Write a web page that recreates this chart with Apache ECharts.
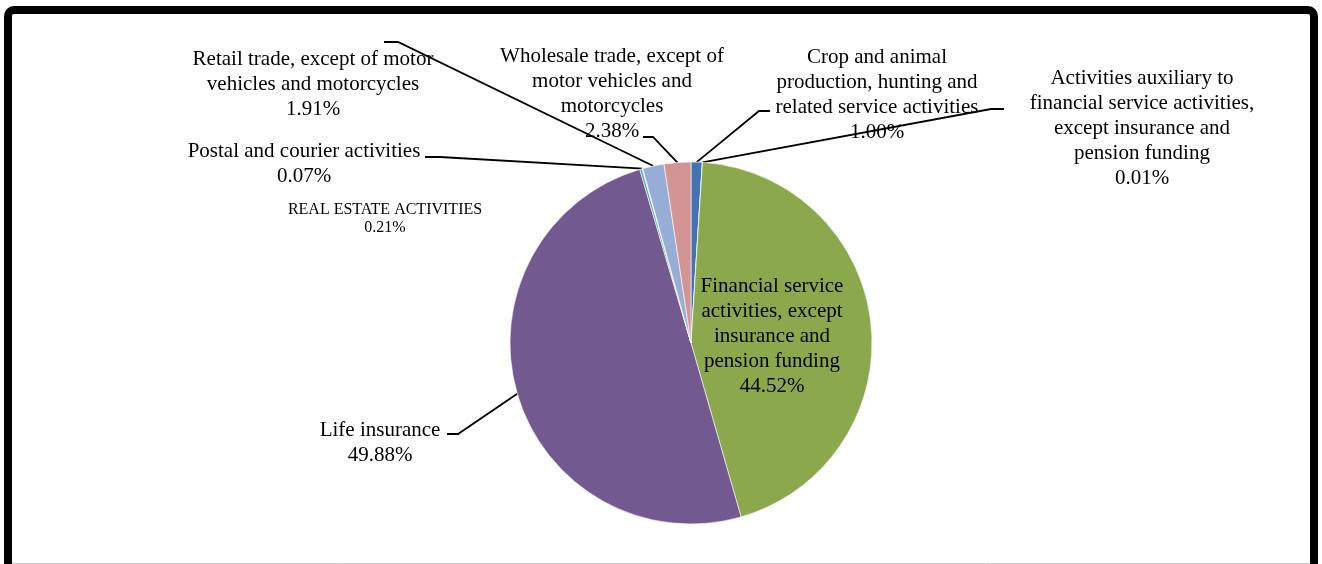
<!DOCTYPE html>
<html>
<head>
<meta charset="utf-8">
<script src="https://cdn.jsdelivr.net/npm/echarts@6/dist/echarts.min.js"></script>
<style>
  html, body { margin: 0; padding: 0; background: #ffffff; }
  #chart { width: 1322px; height: 564px; }
</style>
</head>
<body>
<div id="chart"></div>
<script>
// Sectors, clockwise from 12 o'clock
const categories = [
  'Crop and animal\nproduction, hunting and\nrelated service activities',
  'Activities auxiliary to\nfinancial service activities,\nexcept insurance and\npension funding',
  'Financial service\nactivities, except\ninsurance and\npension funding',
  'Life insurance',
  'REAL ESTATE ACTIVITIES',
  'Postal and courier activities',
  'Retail trade, except of motor\nvehicles and motorcycles',
  'Wholesale trade, except of\nmotor vehicles and\nmotorcycles'
];
const shares = [1.00, 0.01, 44.52, 49.88, 0.21, 0.07, 1.91, 2.38];

const sliceColors = ['#4373B2', '#C0504D', '#8BA84D', '#72598F', '#4BACC6', '#F79646', '#97ADD6', '#D39593'];

// Where each label block sits (centre x, top y) and where its leader line ends
const placement = [
  { x: 877,  y: 45,  tip: [770, 111], elbow: -11 },
  { x: 1142, y: 66,  tip: [1004, 109], elbow: -13 },
  { x: 772,  y: 274, tip: null },
  { x: 380,  y: 418, tip: [447, 434], elbow: 11 },
  { x: 385,  y: 201, tip: null, small: true },
  { x: 304,  y: 139, tip: [425, 157], elbow: 15 },
  { x: 313,  y: 47,  tip: [384, 42], elbow: 14 },
  { x: 612,  y: 44,  tip: [643, 137], elbow: 10 }
];

const serif = '"Liberation Serif", "Times New Roman", serif';

const data = categories.map(function (name, i) {
  const pl = placement[i];
  const item = { name: name, value: shares[i], itemStyle: { color: sliceColors[i] } };
  if (pl.small) {
    item.label = { fontSize: 16, lineHeight: 18 };
  }
  if (!pl.tip) {
    item.labelLine = { show: false };
  }
  return item;
});

const chart = echarts.init(document.getElementById('chart'), null, { renderer: 'canvas' });

chart.setOption({
  animation: false,
  backgroundColor: '#ffffff',
  graphic: [
    {
      type: 'rect',
      shape: { x: 8, y: 10, width: 1306, height: 600, r: 6 },
      style: { fill: null, stroke: '#000000', lineWidth: 8 },
      silent: true,
      z: 10
    },
    {
      type: 'line',
      shape: { x1: 12, y1: 563.5, x2: 1310, y2: 563.5 },
      style: { stroke: '#d0d0d0', lineWidth: 1 },
      silent: true,
      z: 10
    }
  ],
  series: [{
    type: 'pie',
    center: [691, 343],
    radius: 181,
    startAngle: 90,
    clockwise: true,
    avoidLabelOverlap: false,
    emphasis: { disabled: true },
    itemStyle: { borderColor: '#ffffff', borderWidth: 0.6 },
    label: {
      show: true,
      position: 'outside',
      color: '#000000',
      fontFamily: serif,
      fontSize: 21,
      lineHeight: 25,
      overflow: 'none',
      formatter: function (p) {
        return p.name + '\n' + p.value.toFixed(2) + '%';
      }
    },
    labelLine: {
      show: true,
      length: 10,
      length2: 10,
      lineStyle: { color: '#000000', width: 1.8 }
    },
    labelLayout: function (p) {
      const pl = placement[p.dataIndex];
      const out = { x: pl.x, y: pl.y, align: 'center', verticalAlign: 'top' };
      if (pl.tip && p.labelLinePoints && p.labelLinePoints.length) {
        const start = p.labelLinePoints[0];
        out.labelLinePoints = [
          [start[0], start[1]],
          [pl.tip[0] + pl.elbow, pl.tip[1]],
          [pl.tip[0], pl.tip[1]]
        ];
      }
      return out;
    },
    data: data
  }]
});
</script>
</body>
</html>
